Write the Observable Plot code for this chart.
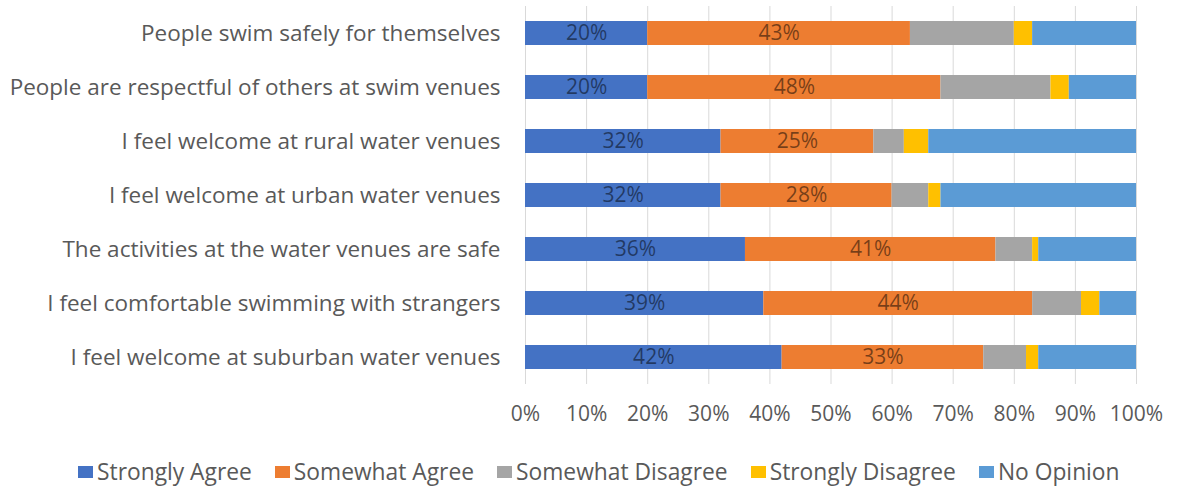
<!DOCTYPE html>
<html>
<head>
<meta charset="utf-8">
<script src="https://cdn.jsdelivr.net/npm/d3@7"></script>
<script src="https://cdn.jsdelivr.net/npm/@observablehq/plot@0.6"></script>
<style>
  body { margin: 0; background: #fff; font-family: "Open Sans", sans-serif; }
  #chart svg { display: block; }
  .legend { display: flex; justify-content: flex-start; gap: 23px; margin-top: 22px; padding-left: 78px; font-size: 22.8px; color: #595959; font-family: "Open Sans", sans-serif; }
  .legend span.item { display: flex; align-items: center; }
  .legend span.sw { display: inline-block; width: 15px; height: 12px; margin-right: 4px; }
</style>
</head>
<body>
<div id="chart"></div>
<script>
const categories = [
  "People swim safely for themselves",
  "People are respectful of others at swim venues",
  "I feel welcome at rural water venues",
  "I feel welcome at urban water venues",
  "The activities at the water venues are safe",
  "I feel comfortable swimming with strangers",
  "I feel welcome at suburban water venues"
];
const seriesNames = ["Strongly Agree", "Somewhat Agree", "Somewhat Disagree", "Strongly Disagree", "No Opinion"];
const seriesColors = ["#4472C4", "#ED7D31", "#A5A5A5", "#FFC000", "#5B9BD5"];
const stronglyAgree    = [20, 20, 32, 32, 36, 39, 42];
const somewhatAgree    = [43, 48, 25, 28, 41, 44, 33];
const somewhatDisagree = [17, 18, 5, 6, 6, 8, 7];
const stronglyDisagree = [3, 3, 4, 2, 1, 3, 2];
const noOpinion        = [17, 11, 34, 32, 16, 6, 16];
const labelledSeries = ["Strongly Agree", "Somewhat Agree"];
const xTicks = [0, 10, 20, 30, 40, 50, 60, 70, 80, 90, 100];

const seriesValues = [stronglyAgree, somewhatAgree, somewhatDisagree, stronglyDisagree, noOpinion];
const data = [];
categories.forEach((c, i) => {
  seriesNames.forEach((s, j) => data.push({q: c, resp: s, value: seriesValues[j][i]}));
});

const chart = Plot.plot({
  width: 1184,
  height: 434,
  marginLeft: 525,
  marginRight: 48,
  marginTop: 6,
  marginBottom: 50,
  style: {fontFamily: "'Open Sans', sans-serif", fontSize: "21px", color: "#595959", background: "#fff"},
  x: {domain: [0, 100], ticks: xTicks, tickFormat: d => d + "%", tickSize: 0, tickPadding: 22, label: null},
  y: {domain: categories, paddingInner: 0.55, paddingOuter: 0.275, tickSize: 0, tickPadding: 25, label: null},
  color: {domain: seriesNames, range: seriesColors},
  marks: [
    Plot.ruleX(xTicks, {stroke: "#d9d9d9", strokeWidth: 1}),
    Plot.barX(data, Plot.stackX({x: "value", y: "q", fill: "resp", z: "resp"})),
    Plot.text(data, Plot.stackX({
      x: "value", y: "q", z: "resp",
      text: d => labelledSeries.includes(d.resp) ? d.value + "%" : "",
      fill: "#000", fillOpacity: 0.5, fontSize: 21
    }))
  ]
});
chart.querySelectorAll("g[aria-label='y-axis tick label'] text, g[aria-label='y-axis tick label']").forEach(el => el.setAttribute("font-size", "22.5"));
document.getElementById("chart").appendChild(chart);

const legend = document.createElement("div");
legend.className = "legend";
seriesNames.forEach((s, i) => {
  const item = document.createElement("span");
  item.className = "item";
  item.innerHTML = `<span class="sw" style="background:${seriesColors[i]}"></span>${s}`;
  legend.appendChild(item);
});
document.body.appendChild(legend);
</script>
</body>
</html>
